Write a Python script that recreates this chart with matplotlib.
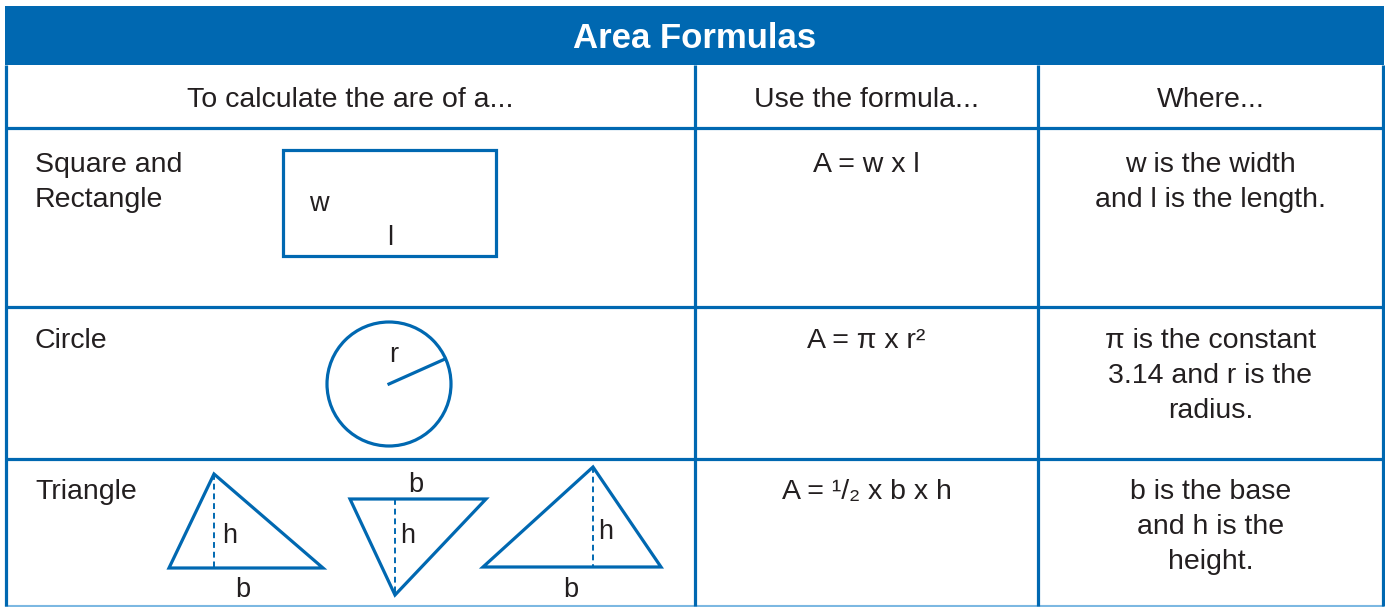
import matplotlib.pyplot as plt
from matplotlib.patches import Rectangle, Circle, Polygon

BLUE = '#0068b1'
INK = '#231f20'
FONT = ['Liberation Sans', 'DejaVu Sans']

# table layout (pixel grid of the reference)
col_edges = [6, 695, 1038, 1383]
row_edges = [6, 65, 128, 307, 459, 606]

title = 'Area Formulas'
headers = ['To calculate the are of a...', 'Use the formula...', 'Where...']
shape_names = [['Square and', 'Rectangle'], ['Circle'], ['Triangle']]
formulas = ['A = w x l', 'A = \u03c0 x r\u00b2', 'A = \u00b9/\u2082 x b x h']
where_text = [['w is the width', 'and l is the length.'],
              ['\u03c0 is the constant', '3.14 and r is the', 'radius.'],
              ['b is the base', 'and h is the', 'height.']]
row_baselines = [172, 348, 499]

# diagrams
rect_box = (283, 150, 213, 106)
rect_labels = [('w', 309, 211), ('l', 390, 245)]
circle_center = (389, 384)
circle_radius = 62
radius_end = (445, 359)
circle_labels = [('r', 394, 362)]
triangles = [
    [(214, 474), (169, 568), (323, 568)],
    [(350, 499), (486, 499), (395, 595)],
    [(593, 467), (483, 567), (661, 567)],
]
heights = [(214, 474, 568), (395, 499, 595), (593, 467, 567)]
tri_labels = [('h', 230, 543), ('b', 243, 597),
              ('b', 416, 492), ('h', 408, 543),
              ('h', 606, 539), ('b', 571, 597)]

fig = plt.figure(figsize=(13.85, 6.07), dpi=100)
ax = fig.add_axes([0, 0, 1, 1])
ax.set_xlim(0, 1385)
ax.set_ylim(607, 0)
ax.axis('off')

# blue title band
ax.add_patch(Rectangle((col_edges[0] - 1, row_edges[0]), col_edges[-1] - col_edges[0] + 2,
                       row_edges[1] - row_edges[0], facecolor=BLUE, edgecolor='none'))
ax.text((col_edges[0] + col_edges[-1]) / 2, 48, title, color='white', fontsize=25,
        fontweight='bold', ha='center', va='baseline', family=FONT)

lw = 2.3
# horizontal rules
for y in row_edges[2:-1]:
    ax.plot([col_edges[0], col_edges[-1]], [y, y], color=BLUE, lw=lw, solid_capstyle='butt')
ax.plot([col_edges[0], col_edges[-1]], [row_edges[-1], row_edges[-1]], color='#7cb8e2', lw=1.5)
# vertical rules
for x in col_edges:
    ax.plot([x, x], [row_edges[1], row_edges[-1]], color=BLUE, lw=lw, solid_capstyle='butt')

fs = 20.5
centers = [(col_edges[i] + col_edges[i + 1]) / 2 for i in range(3)]
for cx, h in zip(centers, headers):
    ax.text(cx, 107, h, color=INK, fontsize=fs, ha='center', va='baseline', family=FONT)

line_gap = 35
for names, formula, where, yb in zip(shape_names, formulas, where_text, row_baselines):
    for k, line in enumerate(names):
        ax.text(35, yb + k * line_gap, line, color=INK, fontsize=fs, ha='left',
                va='baseline', family=FONT)
    ax.text(centers[1], yb, formula, color=INK, fontsize=fs, ha='center',
            va='baseline', family=FONT)
    for k, line in enumerate(where):
        ax.text(centers[2], yb + k * line_gap, line, color=INK, fontsize=fs, ha='center',
                va='baseline', family=FONT)

# rectangle
x0, y0, w, h = rect_box
ax.add_patch(Rectangle((x0, y0), w, h, fill=False, edgecolor=BLUE, lw=lw))
lab_fs = 19.5
for t, x, y in rect_labels:
    ax.text(x, y, t, color=INK, fontsize=lab_fs, ha='left' if t == 'w' else 'center',
            va='baseline', family=FONT)

# circle
ax.add_patch(Circle(circle_center, circle_radius, fill=False, edgecolor=BLUE, lw=lw))
ax.plot([circle_center[0], radius_end[0]], [circle_center[1], radius_end[1]], color=BLUE, lw=lw)
for t, x, y in circle_labels:
    ax.text(x, y, t, color=INK, fontsize=lab_fs, ha='center', va='baseline', family=FONT)

# triangles
for pts in triangles:
    ax.add_patch(Polygon(pts, closed=True, fill=False, edgecolor=BLUE, lw=lw, joinstyle='miter'))
for x, ya, yb2 in heights:
    ax.plot([x, x], [ya, yb2], color=BLUE, lw=1.4, linestyle=(0, (3, 2)))
for t, x, y in tri_labels:
    ax.text(x, y, t, color=INK, fontsize=lab_fs, ha='center', va='baseline', family=FONT)

fig.savefig('out.png', dpi=100)
